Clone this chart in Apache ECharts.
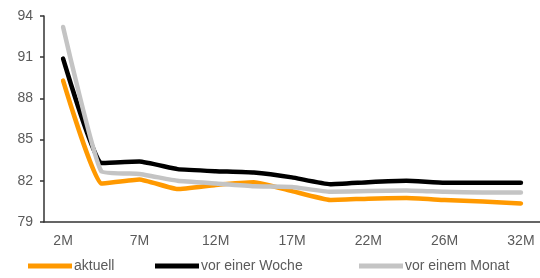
<!DOCTYPE html>
<html>
<head>
<meta charset="utf-8">
<script src="https://cdn.jsdelivr.net/npm/echarts@6/dist/echarts.min.js"></script>
<style>
  html, body { margin: 0; padding: 0; background: #fff; }
  #chart { width: 540px; height: 278px; }
</style>
</head>
<body>
<div id="chart"></div>
<script>
const categories = ["2M", "4M", "7M", "9M", "12M", "14M", "17M", "19M", "22M", "24M", "26M", "29M", "32M"];
const aktuell = [89.3, 81.8, 82.1, 81.4, 81.7, 81.9, 81.25, 80.6, 80.7, 80.75, 80.6, 80.5, 80.35];
const vorWoche = [90.9, 83.3, 83.4, 82.85, 82.7, 82.6, 82.25, 81.75, 81.9, 82.0, 81.85, 81.85, 81.85];
const vorMonat = [93.2, 82.7, 82.5, 82.0, 81.8, 81.6, 81.55, 81.2, 81.25, 81.3, 81.2, 81.15, 81.15];
const yTicks = { min: 79, max: 94, step: 3 };

const textColor = "#5a5a5a";
const font = "Liberation Sans, Arial, sans-serif";

const chart = echarts.init(document.getElementById("chart"));

const mkSeries = (name, data, color) => ({
  name,
  type: "line",
  data,
  smooth: 0.12,
  symbol: "none",
  lineStyle: { color, width: 4.5, cap: "round", join: "round" },
  itemStyle: { color }
});

const mkLegend = (name, left) => ({
  data: [name],
  left,
  top: 259,
  icon: "rect",
  itemWidth: 44,
  itemHeight: 5,
  padding: 0,
  textStyle: { color: textColor, fontSize: 14, fontFamily: font, padding: [0, 0, 0, -3] }
});

chart.setOption({
  animation: false,
  grid: { left: 44, right: -6, top: 16, bottom: 56 },
  legend: [
    mkLegend("aktuell", 28),
    mkLegend("vor einer Woche", 155),
    mkLegend("vor einem Monat", 359)
  ],
  xAxis: {
    type: "category",
    data: categories,
    boundaryGap: true,
    axisLine: { lineStyle: { color: "#333", width: 1.5 } },
    axisTick: { interval: 0, length: 5, lineStyle: { color: "#333", width: 1.5 } },
    axisLabel: { interval: 1, color: textColor, fontSize: 14, fontFamily: font, margin: 12 }
  },
  yAxis: {
    type: "value",
    min: yTicks.min,
    max: yTicks.max,
    interval: yTicks.step,
    splitLine: { show: false },
    axisLine: { show: true, lineStyle: { color: "#333", width: 1.5 } },
    axisTick: { show: true, length: 4, lineStyle: { color: "#333", width: 1.5 } },
    axisLabel: { color: textColor, fontSize: 14, fontFamily: font, margin: 11 }
  },
  series: [
    mkSeries("aktuell", aktuell, "#ff9900"),
    mkSeries("vor einer Woche", vorWoche, "#000000"),
    mkSeries("vor einem Monat", vorMonat, "#c4c4c4")
  ]
});
</script>
</body>
</html>
